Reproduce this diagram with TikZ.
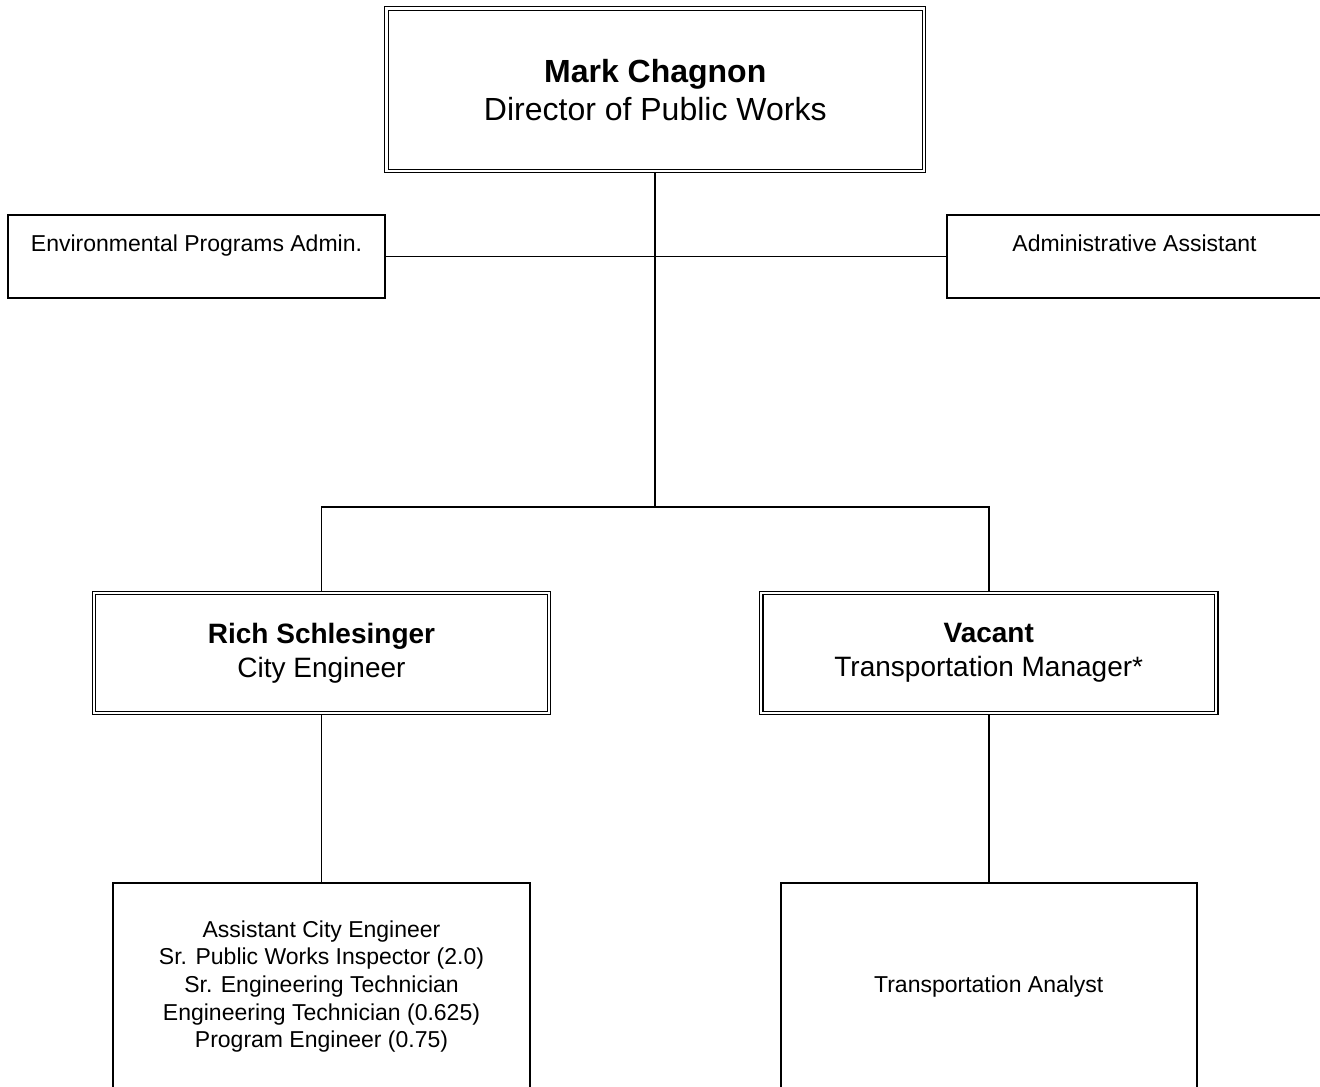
\documentclass[tikz,border=0pt]{standalone}
\usepackage{fontspec}
\setmainfont{Liberation Sans}
\usetikzlibrary{backgrounds}
\tikzset{
  dbox/.style={draw, line width=1.2pt, double, double distance=2.4pt, align=center, inner sep=0pt},
  sbox/.style={draw, line width=1.5pt, align=center, inner sep=0pt},
  conn/.style={line width=1.6pt},
  bigfont/.style={font=\fontsize{32}{38}\selectfont},
  midfont/.style={font=\fontsize{28}{34}\selectfont},
  smallfont/.style={font=\fontsize{23}{27.6}\selectfont}
}
\begin{document}
\begin{tikzpicture}[x=1pt,y=-1pt]
\useasboundingbox (0,0) rectangle (1320,1087);
\node[dbox, bigfont, minimum width=537.5pt, minimum height=162.5pt] (top) at (655.25,89.75)
  {\textbf{Mark Chagnon}\\Director of Public Works};
\node[sbox, smallfont, minimum width=377pt, minimum height=83pt] (env) at (196.5,256.5)
  {Environmental Programs Admin.\\~};
\node[sbox, smallfont, minimum width=375pt, minimum height=83pt] (adm) at (1134.5,256.5)
  {Administrative Assistant\\~};
\node[dbox, midfont, minimum width=455pt, minimum height=120pt] (rich) at (321.5,653)
  {\textbf{Rich Schlesinger}\\City Engineer};
\node[dbox, midfont, minimum width=455pt, minimum height=120pt] (vac) at (988.75,653)
  {\textbf{Vacant}\\Transportation Manager*};
\node[sbox, smallfont, minimum width=417pt, minimum height=207pt] (ce) at (321.5,986.5)
  {Assistant City Engineer\\Sr. Public Works Inspector (2.0)\\Sr. Engineering Technician\\Engineering Technician (0.625)\\Program Engineer (0.75)};
\node[sbox, smallfont, minimum width=416pt, minimum height=207pt] (ta) at (988.75,986.5)
  {Transportation Analyst};
\coordinate (j) at (655.25,507);
\begin{scope}[on background layer]
\draw[conn] (top.south) -- (j);
\draw[conn] (env.east) -- (adm.west);
\draw[conn] (rich.north) |- (j) -| (vac.north);
\draw[conn] (rich.south) -- (ce.north);
\draw[conn] (vac.south) -- (ta.north);
\end{scope}
\end{tikzpicture}
\end{document}
